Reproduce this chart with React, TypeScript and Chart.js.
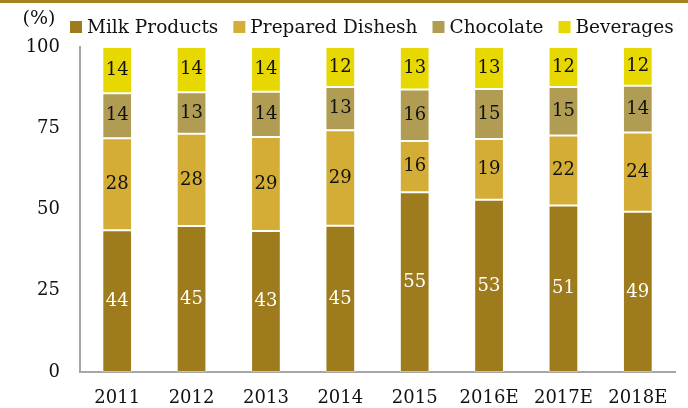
import React, { useEffect, useRef } from "react";
import { Chart, registerables } from "chart.js";

Chart.register(...registerables);

const categories = ["2011", "2012", "2013", "2014", "2015", "2016E", "2017E", "2018E"];
const seriesNames = ["Milk Products", "Prepared Dishesh", "Chocolate", "Beverages"];
const milkProducts = [43.6, 44.9, 43.4, 45.0, 55.3, 53.0, 51.2, 49.3];
const preparedDishes = [28.3, 28.4, 28.9, 29.4, 15.8, 18.7, 21.6, 24.4];
const chocolate = [13.9, 12.8, 13.9, 13.3, 15.8, 15.4, 14.9, 14.4];
const beverages = [14.2, 13.9, 13.8, 12.3, 13.1, 12.9, 12.3, 11.9];
const yTicks = [0, 25, 50, 75, 100];
const unitLabel = "(%)";

const colors = ["#9E7B1C", "#D4AD36", "#B09C53", "#E6D800"];
const labelColors = ["#ffffff", "#111111", "#111111", "#111111"];
const FONT = "'DejaVu Serif', serif";

export default function App() {
  const ref = useRef<HTMLCanvasElement | null>(null);

  useEffect(() => {
    const canvas = ref.current;
    if (!canvas) return;

    const labelPlugin = {
      id: "segLabels",
      afterDatasetsDraw(chart: any) {
        const ctx = chart.ctx;
        ctx.save();
        ctx.font = `18px ${FONT}`;
        ctx.textAlign = "center";
        ctx.textBaseline = "middle";
        chart.data.datasets.forEach((ds: any, i: number) => {
          const meta = chart.getDatasetMeta(i);
          meta.data.forEach((bar: any, j: number) => {
            const v = ds.data[j];
            const y = (bar.y + bar.base) / 2;
            ctx.fillStyle = labelColors[i];
            ctx.fillText(String(Math.round(v)), bar.x, y);
          });
        });
        ctx.restore();
      },
    };

    const legendPlugin = {
      id: "customLegend",
      afterDraw(chart: any) {
        const ctx = chart.ctx;
        ctx.save();
        // top rule
        ctx.fillStyle = "#A3841F";
        ctx.fillRect(0, 0, chart.width, 3);
        // unit label
        ctx.fillStyle = "#111";
        ctx.font = `19px ${FONT}`;
        ctx.textAlign = "center";
        ctx.textBaseline = "middle";
        ctx.fillText(unitLabel, 39, 19);
        // legend
        ctx.font = `18.5px ${FONT}`;
        ctx.textAlign = "left";
        ctx.textBaseline = "alphabetic";
        let x = 70;
        seriesNames.forEach((name, i) => {
          ctx.fillStyle = colors[i];
          ctx.fillRect(x, 21, 12, 12);
          ctx.fillStyle = "#111";
          ctx.fillText(name, x + 17, 33);
          x = x + 17 + ctx.measureText(name).width + 15;
        });
        ctx.restore();
      },
    };

    const mk = (i: number, data: number[]) => ({
      label: seriesNames[i],
      data,
      backgroundColor: colors[i],
      borderColor: "rgba(255,255,255,0.3)",
      borderWidth: 1,
      borderSkipped: false,
      categoryPercentage: 1,
      barPercentage: 0.4,
    });

    const chart = new Chart(canvas, {
      type: "bar",
      data: {
        labels: categories,
        datasets: [
          mk(0, milkProducts),
          mk(1, preparedDishes),
          mk(2, chocolate),
          mk(3, beverages),
        ],
      },
      options: {
        responsive: false,
        animation: false,
        devicePixelRatio: 1,
        layout: { padding: { top: 47, right: 13, bottom: 0, left: 0 } },
        plugins: { legend: { display: false }, tooltip: { enabled: false } },
        scales: {
          x: {
            stacked: true,
            afterFit: (s: any) => {
              s.height = 36;
            },
            grid: { display: false, drawTicks: false },
            border: { display: true, color: "#a6a6a6", width: 2 },
            ticks: { color: "#111", font: { family: FONT, size: 18 }, padding: 16, maxRotation: 0 },
          },
          y: {
            stacked: true,
            min: 0,
            max: 100,
            afterBuildTicks: (s: any) => {
              s.ticks = yTicks.map((v) => ({ value: v }));
            },
            afterFit: (s: any) => {
              s.width = 80;
            },
            grid: { display: false, drawTicks: false },
            border: { display: true, color: "#a6a6a6", width: 2 },
            ticks: { color: "#111", font: { family: FONT, size: 18 }, padding: 20 },
          },
        },
      },
      plugins: [labelPlugin, legendPlugin],
    } as any);

    return () => chart.destroy();
  }, []);

  return (
    <div style={{ position: "fixed", left: 0, top: 0, width: 688, height: 408, background: "#fff" }}>
      <canvas ref={ref} width={688} height={408} style={{ display: "block" }} />
    </div>
  );
}
